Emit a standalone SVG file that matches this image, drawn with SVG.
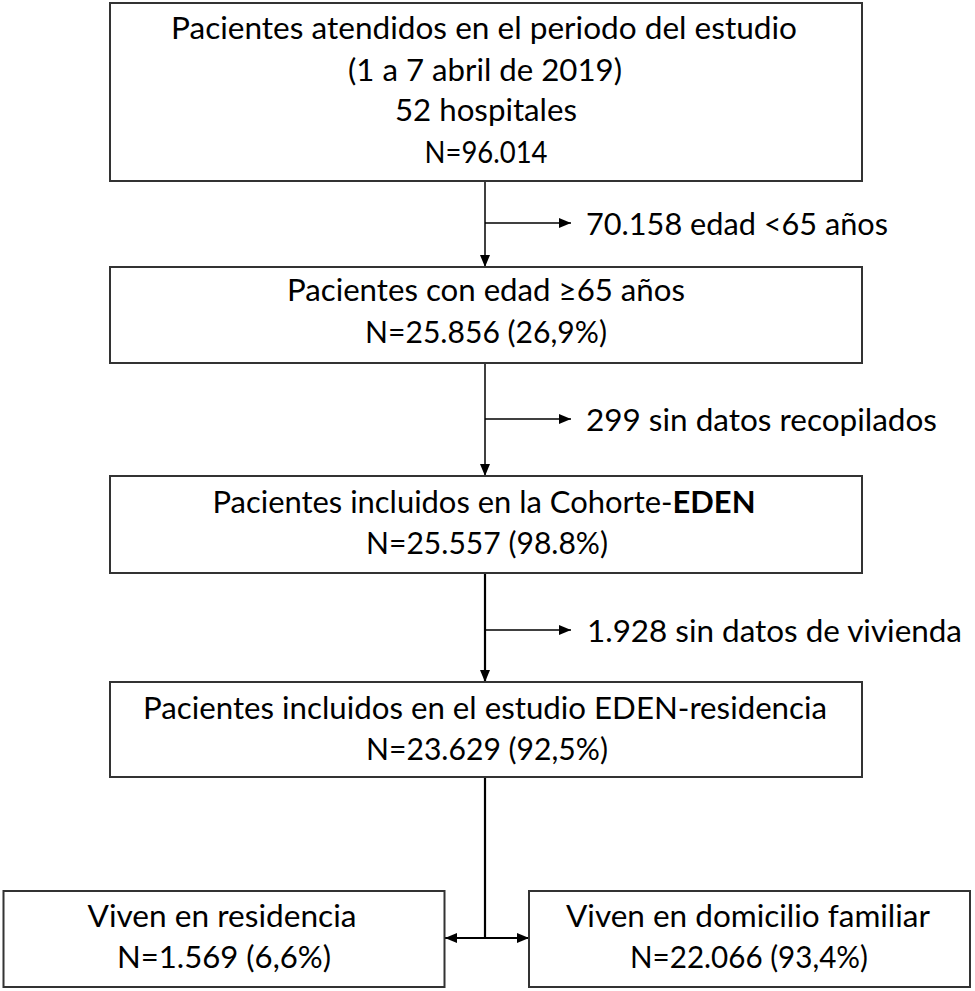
<svg xmlns="http://www.w3.org/2000/svg" width="975" height="991" viewBox="0 0 975 991">
<style>
  .box { fill: #ffffff; stroke: #333333; stroke-width: 2; }
  .t { font-family: Lato, "Open Sans", "Liberation Sans", sans-serif; font-size: 31px; fill: #000000; }
  .c { text-anchor: middle; }
  .ln { stroke: #000000; stroke-width: 1.5; fill: none; }
  .lnb { stroke: #000000; stroke-width: 2.2; fill: none; }
</style>
<defs>
  <marker id="ah" viewBox="0 0 12 10" refX="12" refY="5" markerWidth="12" markerHeight="10" markerUnits="userSpaceOnUse" orient="auto-start-reverse">
    <path d="M0,0 L12,5 L0,10 Z" fill="#000000"/>
  </marker>
</defs>
<rect width="975" height="991" fill="#ffffff"/>

<g id="connectors">
  <line class="ln" x1="485" y1="181" x2="485" y2="267" marker-end="url(#ah)"/>
  <line class="ln" x1="485" y1="223" x2="571" y2="223" marker-end="url(#ah)"/>
  <line class="ln" x1="485" y1="363" x2="485" y2="476" marker-end="url(#ah)"/>
  <line class="ln" x1="485" y1="419" x2="571" y2="419" marker-end="url(#ah)"/>
  <line class="lnb" x1="485" y1="573" x2="485" y2="682" marker-end="url(#ah)"/>
  <line class="ln" x1="485" y1="630" x2="571" y2="630" marker-end="url(#ah)"/>
  <line class="lnb" x1="485" y1="777" x2="485" y2="938"/>
  <line class="lnb" x1="445" y1="938" x2="529" y2="938" marker-start="url(#ah)" marker-end="url(#ah)"/>
</g>

<g id="n1">
  <rect class="box" x="110" y="3" width="752" height="178"/>
  <text class="t c" x="484" y="39" textLength="626" lengthAdjust="spacingAndGlyphs">Pacientes atendidos en el periodo del estudio</text>
  <text class="t c" x="485" y="81" textLength="274" lengthAdjust="spacingAndGlyphs">(1 a 7 abril de 2019)</text>
  <text class="t c" x="486" y="121" textLength="182" lengthAdjust="spacingAndGlyphs">52 hospitales</text>
  <text class="t c" x="486" y="163" textLength="123" lengthAdjust="spacingAndGlyphs">N=96.014</text>
</g>

<g id="e1">
  <text class="t" x="586" y="235" textLength="302" lengthAdjust="spacingAndGlyphs">70.158 edad &lt;65 años</text>
</g>

<g id="n2">
  <rect class="box" x="110" y="267" width="752" height="96"/>
  <text class="t c" x="486" y="301" textLength="398" lengthAdjust="spacingAndGlyphs">Pacientes con edad ≥65 años</text>
  <text class="t c" x="486" y="343" textLength="242" lengthAdjust="spacingAndGlyphs">N=25.856 (26,9%)</text>
</g>

<g id="e2">
  <text class="t" x="586" y="431" textLength="351" lengthAdjust="spacingAndGlyphs">299 sin datos recopilados</text>
</g>

<g id="n3">
  <rect class="box" x="110" y="476" width="752" height="97"/>
  <text class="t c" x="484" y="513" textLength="543" lengthAdjust="spacingAndGlyphs">Pacientes incluidos en la Cohorte-<tspan font-weight="bold">EDEN</tspan></text>
  <text class="t c" x="487" y="554" textLength="242" lengthAdjust="spacingAndGlyphs">N=25.557 (98.8%)</text>
</g>

<g id="e3">
  <text class="t" x="587" y="642" textLength="375" lengthAdjust="spacingAndGlyphs">1.928 sin datos de vivienda</text>
</g>

<g id="n4">
  <rect class="box" x="110" y="682" width="752" height="95"/>
  <text class="t c" x="485" y="719" textLength="684" lengthAdjust="spacingAndGlyphs">Pacientes incluidos en el estudio EDEN-residencia</text>
  <text class="t c" x="487" y="760" textLength="242" lengthAdjust="spacingAndGlyphs">N=23.629 (92,5%)</text>
</g>

<g id="n5">
  <rect class="box" x="3.5" y="891" width="441" height="96"/>
  <text class="t c" x="222" y="927" textLength="269" lengthAdjust="spacingAndGlyphs">Viven en residencia</text>
  <text class="t c" x="224" y="968" textLength="214" lengthAdjust="spacingAndGlyphs">N=1.569 (6,6%)</text>
</g>

<g id="n6">
  <rect class="box" x="529" y="891" width="441" height="96"/>
  <text class="t c" x="748" y="927" textLength="364" lengthAdjust="spacingAndGlyphs">Viven en domicilio familiar</text>
  <text class="t c" x="749" y="968" textLength="238" lengthAdjust="spacingAndGlyphs">N=22.066 (93,4%)</text>
</g>
</svg>
